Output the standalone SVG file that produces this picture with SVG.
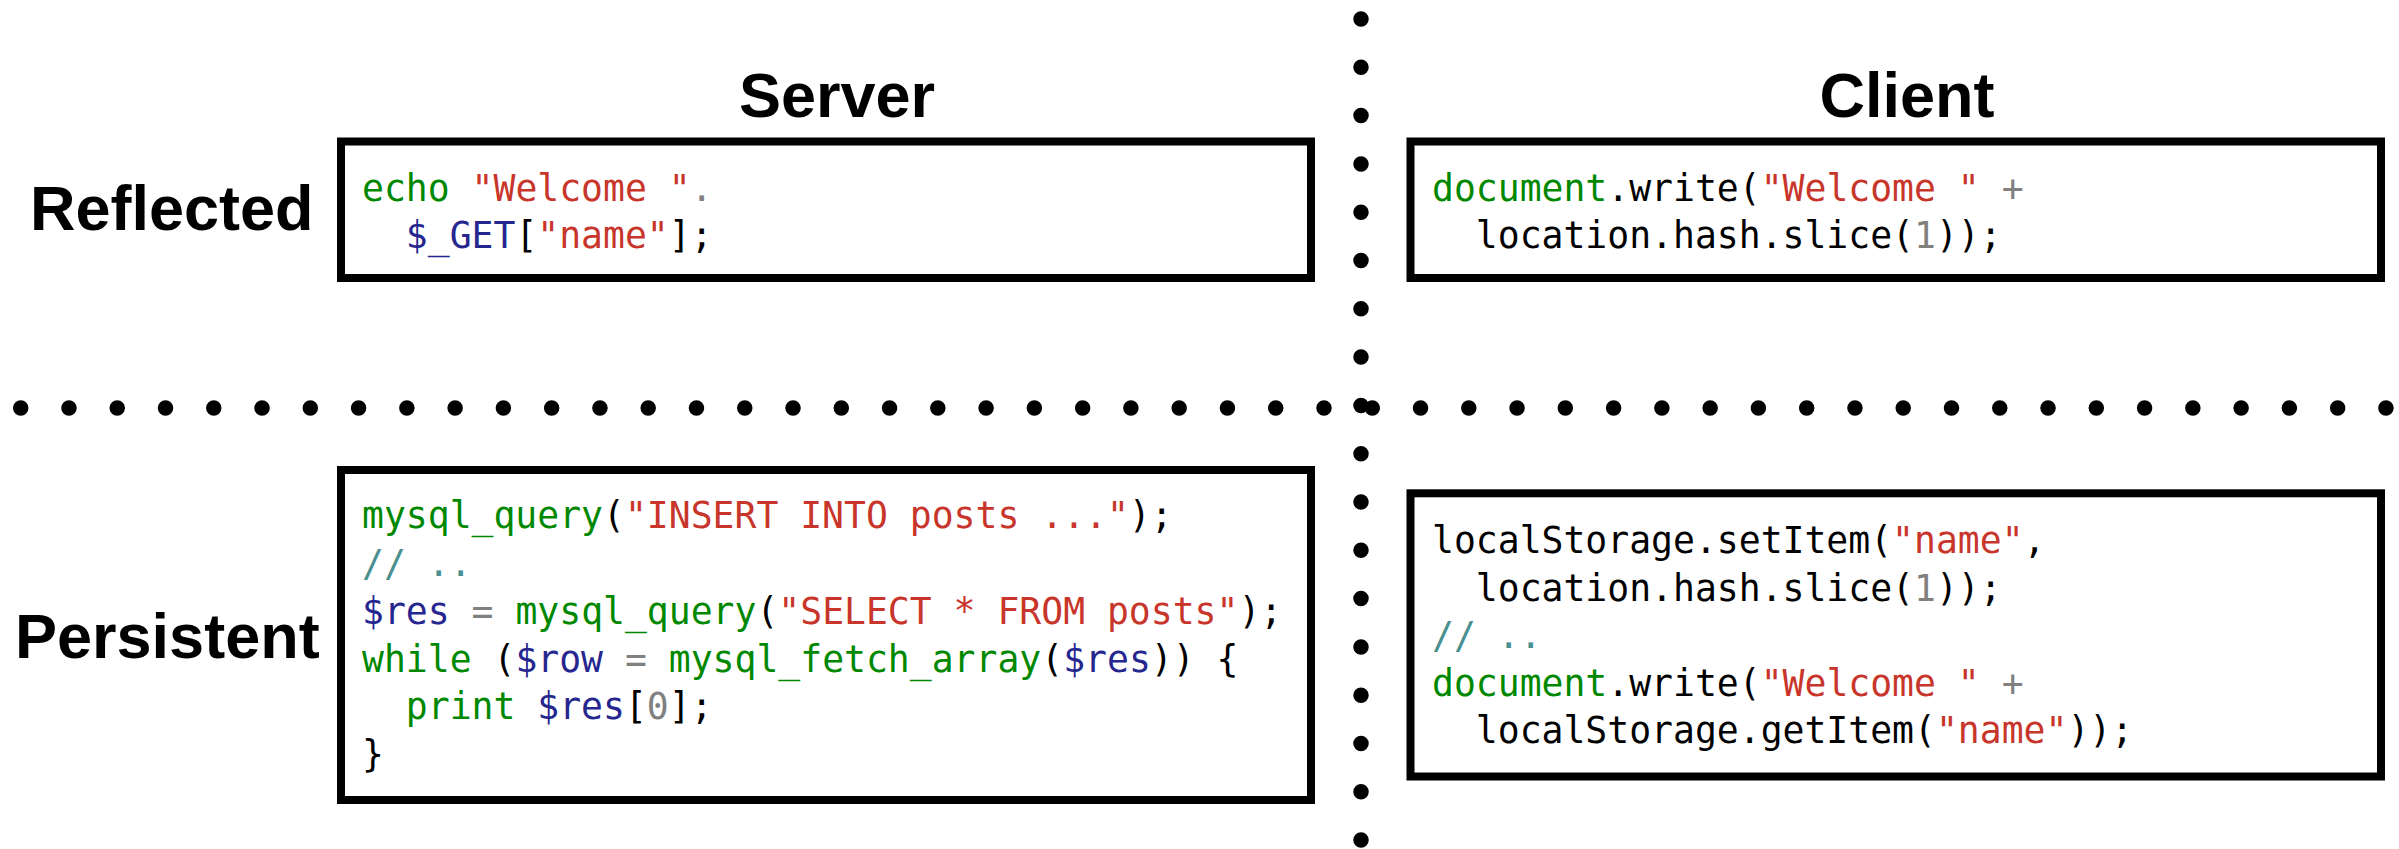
<svg xmlns="http://www.w3.org/2000/svg" width="2399" height="849" viewBox="0 0 2399 849" xml:space="preserve">
<style>
.box{fill:#fff;stroke:#000;stroke-width:8}
.code{font-family:"DejaVu Sans Mono","Liberation Mono",monospace;font-size:36.4px;fill:#000;white-space:pre}
.title{font-family:"Liberation Sans",Arial,sans-serif;font-weight:bold;font-size:63px;fill:#000}
.dots{stroke:#000;stroke-width:15.5;stroke-linecap:round;fill:none}
.g{fill:#008800}
.s{fill:#c8352b}
.v{fill:#26268f}
.o{fill:#808080}
.c{fill:#4a9090}
</style>
<rect width="2399" height="849" fill="#fff"/>
<g id="dividers">
<line class="dots" x1="1361" y1="19" x2="1361" y2="841" stroke-dasharray="0 48.3"/>
<line class="dots" x1="20.7" y1="408" x2="2387" y2="408" stroke-dasharray="0 48.27"/>
</g>
<g id="labels">
<text class="title" x="837" y="117" text-anchor="middle">Server</text>
<text class="title" x="1907" y="117" text-anchor="middle">Client</text>
<text class="title" x="30" y="230">Reflected</text>
<text class="title" x="15" y="658">Persistent</text>
</g>
<g id="server-reflected">
<rect class="box" x="341" y="141.5" width="970" height="136.5"/>
<text class="code" x="362" y="201"><tspan class="g">echo</tspan> <tspan class="s">"Welcome "</tspan><tspan class="o">.</tspan></text>
<text class="code" x="362" y="248">  <tspan class="v">$_GET</tspan>[<tspan class="s">"name"</tspan>];</text>
</g>
<g id="client-reflected">
<rect class="box" x="1410.5" y="141.5" width="970.5" height="136.5"/>
<text class="code" x="1432" y="201"><tspan class="g">document</tspan>.write(<tspan class="s">"Welcome "</tspan> <tspan class="o">+</tspan></text>
<text class="code" x="1432" y="248">  location.hash.slice(<tspan class="o">1</tspan>));</text>
</g>
<g id="server-persistent">
<rect class="box" x="341" y="470" width="970" height="330"/>
<text class="code" x="362" y="528"><tspan class="g">mysql_query</tspan>(<tspan class="s">"INSERT INTO posts ..."</tspan>);</text>
<text class="code" x="362" y="576"><tspan class="c">// ..</tspan></text>
<text class="code" x="362" y="624"><tspan class="v">$res</tspan> <tspan class="o">=</tspan> <tspan class="g">mysql_query</tspan>(<tspan class="s">"SELECT * FROM posts"</tspan>);</text>
<text class="code" x="362" y="672"><tspan class="g">while</tspan> (<tspan class="v">$row</tspan> <tspan class="o">=</tspan> <tspan class="g">mysql_fetch_array</tspan>(<tspan class="v">$res</tspan>)) {</text>
<text class="code" x="362" y="719">  <tspan class="g">print</tspan> <tspan class="v">$res</tspan>[<tspan class="o">0</tspan>];</text>
<text class="code" x="362" y="767">}</text>
</g>
<g id="client-persistent">
<rect class="box" x="1410.5" y="493.3" width="970.5" height="283.2"/>
<text class="code" x="1432" y="553">localStorage.setItem(<tspan class="s">"name"</tspan>,</text>
<text class="code" x="1432" y="600.5">  location.hash.slice(<tspan class="o">1</tspan>));</text>
<text class="code" x="1432" y="648"><tspan class="c">// ..</tspan></text>
<text class="code" x="1432" y="695.5"><tspan class="g">document</tspan>.write(<tspan class="s">"Welcome "</tspan> <tspan class="o">+</tspan></text>
<text class="code" x="1432" y="743">  localStorage.getItem(<tspan class="s">"name"</tspan>));</text>
</g>
</svg>
